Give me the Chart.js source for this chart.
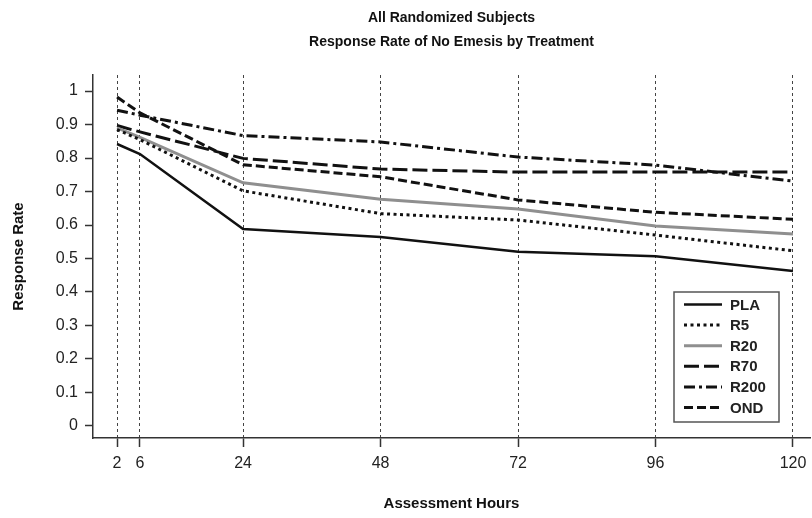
<!DOCTYPE html>
<html>
<head>
<meta charset="utf-8">
<script src="https://cdn.jsdelivr.net/npm/chart.js@4/dist/chart.umd.min.js"></script>
<style>
  html, body { margin: 0; padding: 0; background: #fff; }
  #c { display: block; }
</style>
</head>
<body>
<canvas id="c" width="812" height="518"></canvas>
<script>
// ---- data ----
const hours = [2, 6, 24, 48, 72, 96, 120];
const seriesNames = ['PLA', 'R5', 'R20', 'R70', 'R200', 'OND'];
const PLA  = [0.842, 0.812, 0.588, 0.564, 0.520, 0.507, 0.463];
const R5   = [0.885, 0.855, 0.702, 0.634, 0.615, 0.570, 0.523];
const R20  = [0.890, 0.862, 0.726, 0.677, 0.648, 0.597, 0.573];
const R70  = [0.897, 0.878, 0.799, 0.767, 0.758, 0.758, 0.758];
const R200 = [0.943, 0.928, 0.867, 0.848, 0.803, 0.779, 0.731];
const OND  = [0.982, 0.935, 0.780, 0.744, 0.675, 0.638, 0.617];
const yTicks = [0, 0.1, 0.2, 0.3, 0.4, 0.5, 0.6, 0.7, 0.8, 0.9, 1];
const yTickLabels = ['0', '0.1', '0.2', '0.3', '0.4', '0.5', '0.6', '0.7', '0.8', '0.9', '1'];
const xTickLabels = ['2', '6', '24', '48', '72', '96', '120'];
const titleLines = ['All Randomized Subjects', 'Response Rate of No Emesis by Treatment'];
const xTitle = 'Assessment Hours';
const yTitle = 'Response Rate';

// ---- styles ----
const seriesValues = [PLA, R5, R20, R70, R200, OND];
const styles = [
  { color: '#111', width: 2.5, dash: [] },
  { color: '#111', width: 3, dash: [3, 3.5] },
  { color: '#8f8f8f', width: 3, dash: [] },
  { color: '#111', width: 3, dash: [15, 5] },
  { color: '#111', width: 3, dash: [11, 4, 3, 4] },
  { color: '#111', width: 3, dash: [9, 4] }
];

Chart.defaults.font.family = "'Liberation Sans', Arial, sans-serif";
Chart.defaults.color = '#222';

const datasets = seriesNames.map((name, k) => ({
  label: name,
  data: hours.map((h, i) => ({ x: h, y: seriesValues[k][i] })),
  borderColor: styles[k].color,
  borderWidth: styles[k].width,
  borderDash: styles[k].dash,
  borderCapStyle: 'butt',
  pointRadius: 0,
  fill: false,
  tension: 0
}));

// centre the title over the plot area
const titleOverPlot = {
  id: 'titleOverPlot',
  afterLayout(chart) {
    const t = chart.titleBlock;
    if (t) { t.left = chart.chartArea.left; t.right = chart.chartArea.right; }
  }
};

const insideLegend = {
  id: 'insideLegend',
  afterDatasetsDraw(chart) {
    const ctx = chart.ctx;
    const ca = chart.chartArea;
    const w = 105, h = 130;
    const x0 = ca.right - 136;
    const y0 = ca.bottom - 16 - h;
    ctx.save();
    ctx.fillStyle = '#fff';
    ctx.fillRect(x0, y0, w, h);
    ctx.strokeStyle = '#555';
    ctx.lineWidth = 1.5;
    ctx.strokeRect(x0, y0, w, h);
    ctx.font = "bold 15px 'Liberation Sans', Arial, sans-serif";
    ctx.textBaseline = 'middle';
    ctx.textAlign = 'left';
    chart.data.datasets.forEach((ds, i) => {
      const yy = y0 + 12.5 + i * 20.6;
      ctx.beginPath();
      ctx.strokeStyle = ds.borderColor;
      ctx.lineWidth = ds.borderWidth;
      ctx.setLineDash(ds.borderDash || []);
      ctx.lineCap = 'butt';
      ctx.moveTo(x0 + 10, yy);
      ctx.lineTo(x0 + 48, yy);
      ctx.stroke();
      ctx.setLineDash([]);
      ctx.fillStyle = '#222';
      ctx.fillText(ds.label, x0 + 56, yy + 1);
    });
    ctx.restore();
  }
};

new Chart(document.getElementById('c'), {
  type: 'line',
  data: { datasets },
  plugins: [titleOverPlot, insideLegend],
  options: {
    responsive: false,
    animation: false,
    layout: { padding: { left: 0, right: 2, top: 0, bottom: 0 } },
    plugins: {
      legend: { display: false },
      tooltip: { enabled: false },
      title: {
        display: true,
        text: titleLines,
        color: '#111',
        font: { size: 14, weight: 'bold', lineHeight: 24 / 14 },
        padding: { top: 6, bottom: 21 }
      }
    },
    scales: {
      x: {
        type: 'linear',
        min: -2.2,
        max: 122.97,
        afterBuildTicks: (s) => { s.ticks = hours.map(v => ({ value: v })); },
        afterFit: (s) => { s.height = 80; s.paddingLeft = 0; s.paddingRight = 0; },
        ticks: {
          autoSkip: false,
          maxRotation: 0,
          padding: 7,
          font: { size: 16 },
          color: '#222',
          callback: (v, i) => xTickLabels[i]
        },
        grid: {
          display: true,
          drawOnChartArea: true,
          color: '#444',
          lineWidth: 1,
          tickLength: 9,
          tickColor: '#333',
          tickWidth: 1.5,
          tickBorderDash: []
        },
        border: { display: true, color: '#333', width: 1.5, dash: [3, 3] },
        title: {
          display: true,
          text: xTitle,
          color: '#111',
          font: { size: 15, weight: 'bold', lineHeight: 1.2 },
          padding: { top: 0, bottom: 5 }
        }
      },
      y: {
        type: 'linear',
        min: -0.036,
        max: 1.048,
        afterBuildTicks: (s) => { s.ticks = yTicks.map(v => ({ value: v })); },
        afterFit: (s) => { s.width = 93; s.paddingTop = 0; s.paddingBottom = 0; },
        ticks: {
          autoSkip: false,
          padding: 7,
          font: { size: 16 },
          color: '#222',
          callback: (v, i) => yTickLabels[i]
        },
        grid: {
          display: true,
          drawOnChartArea: false,
          drawTicks: true,
          tickLength: 8,
          tickColor: '#333',
          tickWidth: 1.5
        },
        border: { display: true, color: '#333', width: 1.5 },
        title: {
          display: true,
          text: yTitle,
          color: '#111',
          font: { size: 15, weight: 'bold', lineHeight: 1.2 },
          padding: { top: 10, bottom: 0 }
        }
      }
    }
  }
});
</script>
</body>
</html>
